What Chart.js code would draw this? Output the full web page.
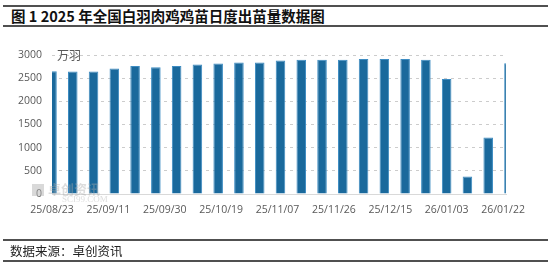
<!DOCTYPE html>
<html><head><meta charset="utf-8">
<script src="https://cdn.jsdelivr.net/npm/chart.js@4.4.1/dist/chart.umd.min.js"></script>
<style>
html,body{margin:0;padding:0;background:#fff;width:555px;height:264px;overflow:hidden}
#wrap{position:relative;width:555px;height:264px}
#c{position:absolute;left:0;top:0}
.hl{position:absolute;left:3px;width:545px;background:#505050}
#title{position:absolute;left:11px;top:5px;font:bold 14.5px "Noto Sans CJK SC";color:#111;line-height:22px;white-space:nowrap}
#src{position:absolute;left:10px;top:242px;font:12.5px "Noto Sans CJK SC";color:#222;line-height:18px;white-space:nowrap}
#unit{position:absolute;left:57px;top:46px;font:12px "Noto Sans CJK SC";color:#595959;line-height:18px}
#wm{position:absolute;left:32px;top:182px;color:rgba(170,170,170,0.4);font:bold 13px "Noto Sans CJK SC";line-height:14px;white-space:nowrap}
#wm2{position:absolute;left:62px;top:194px;color:rgba(170,170,170,0.4);font:9px "Liberation Serif";line-height:10px;white-space:nowrap}
</style></head>
<body><div id="wrap">
<div class="hl" style="top:5px;height:1.5px"></div>
<div id="title">图 1 2025 年全国白羽肉鸡鸡苗日度出苗量数据图</div>
<div class="hl" style="top:25px;height:2px"></div>
<canvas id="c" width="555" height="264"></canvas>
<div id="unit">万羽</div>
<div id="wm"><span style="display:inline-block;width:12px;height:12px;background:rgba(180,180,180,0.5);vertical-align:-2px;margin-right:4px"></span>卓创资讯</div>
<div id="wm2">SCI99.COM</div>
<div class="hl" style="top:239px;height:1.5px"></div>
<div id="src">数据来源：卓创资讯</div>
<div class="hl" style="top:260px;height:2px"></div>
</div>
<script>
const dates = ['2025-08-23','2025-08-30','2025-09-06','2025-09-13','2025-09-20','2025-09-27','2025-10-04','2025-10-11','2025-10-18','2025-10-25','2025-11-01','2025-11-08','2025-11-15','2025-11-22','2025-11-29','2025-12-06','2025-12-13','2025-12-20','2025-12-27','2026-01-03','2026-01-10','2026-01-17','2026-01-24'];
const values = [2650,2645,2645,2710,2760,2735,2760,2795,2815,2840,2840,2880,2895,2895,2895,2915,2915,2915,2895,2480,380,1220,2820];
const tickLabels = ['25/08/23','25/09/11','25/09/30','25/10/19','25/11/07','25/11/26','25/12/15','26/01/03','26/01/22'];
const yTicks = [0,500,1000,1500,2000,2500,3000];

const DAY = 86400000;
const base = Date.UTC(2025,7,23);
function dayOf(iso){const p=iso.split('-').map(Number);return Math.round((Date.UTC(p[0],p[1]-1,p[2])-base)/DAY);}
function dayOfLabel(l){const p=l.split('/').map(Number);return Math.round((Date.UTC(2000+p[0],p[1]-1,p[2])-base)/DAY);}
const tickDays = tickLabels.map(dayOfLabel);
const tickMap = {}; tickLabels.forEach((l,i)=>tickMap[tickDays[i]]=l);
const pts = dates.map((d,i)=>({x:dayOf(d),y:values[i]}));

new Chart(document.getElementById('c'),{
  type:'bar',
  data:{datasets:[{data:pts,backgroundColor:'#1a699c',borderColor:'#3d8cc2',borderWidth:1,borderSkipped:'start',barPercentage:0.46,categoryPercentage:1,clip:0}]},
  options:{
    responsive:false,animation:false,devicePixelRatio:1,
    layout:{padding:{top:55,right:49,bottom:0,left:0}},
    plugins:{legend:{display:false},tooltip:{enabled:false}},
    scales:{
      x:{type:'linear',min:0,max:153,offset:false,
        afterFit(s){s.height=70;},
        afterBuildTicks(s){s.ticks=tickDays.map(v=>({value:v}));},
        grid:{display:false,drawTicks:false,offset:false},
        border:{display:true,color:'#d9d9d9',width:1},
        ticks:{padding:10,maxRotation:0,autoSkip:false,color:'#595959',font:{family:'Open Sans',size:10.5},callback:v=>String(tickMap[v]||'')}
      },
      y:{min:0,max:3000,
        afterFit(s){s.width=52;},
        afterBuildTicks(s){s.ticks=yTicks.map(v=>({value:v}));},
        grid:{color:'#cccccc',drawTicks:false,lineWidth:1},
        border:{display:false,dash:[3,4]},
        ticks:{padding:10,color:'#595959',font:{family:'Open Sans',size:10.5},callback:v=>String(v)}
      }
    }
  }
});
</script>
</body></html>
